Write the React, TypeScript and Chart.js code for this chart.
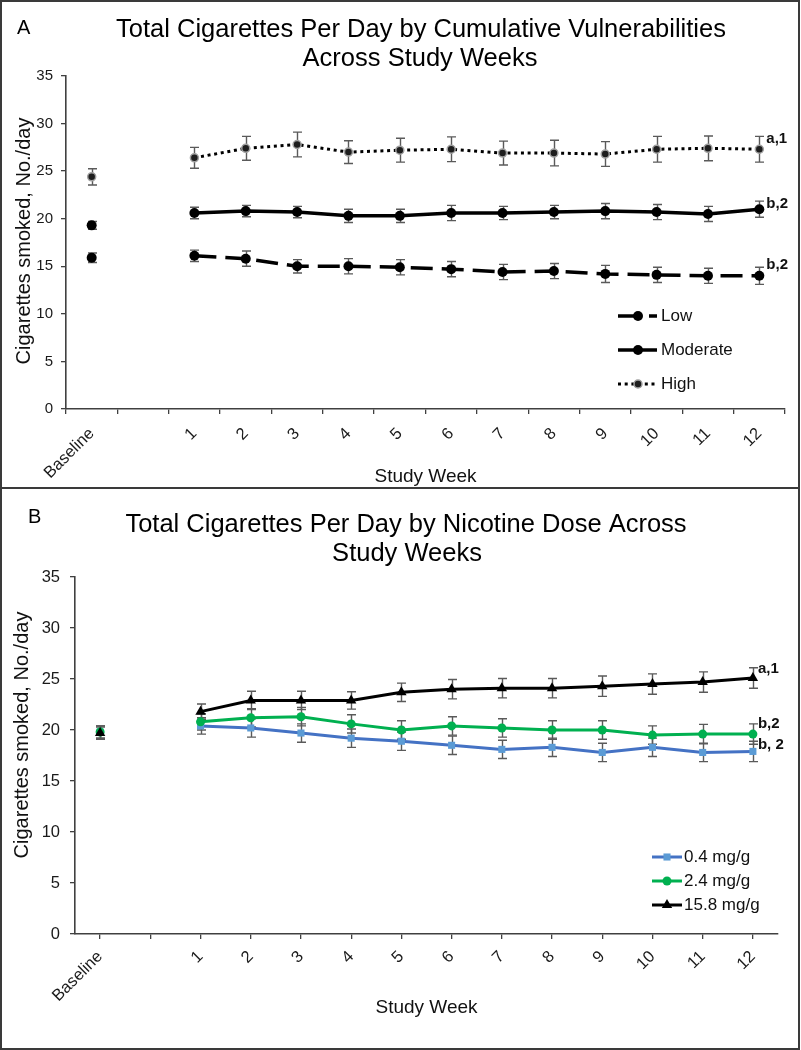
import React, { useEffect, useRef } from 'react';
import { Chart, registerables } from 'chart.js';

Chart.register(...registerables);

const FONT = '"Liberation Sans", Arial, Helvetica, sans-serif';

// ---------- shared categories / ticks ----------
const weekCategories = ['Baseline', '', '1', '2', '3', '4', '5', '6', '7', '8', '9', '10', '11', '12'];
const yMin = 0;
const yMax = 35;
const yStep = 5;

// ---------- Panel A: cumulative vulnerabilities ----------
const panelATitle = ['Total Cigarettes Per Day by Cumulative Vulnerabilities', 'Across Study Weeks'];
const seriesANames = ['Low', 'Moderate', 'High'];
const lowMean = [15.9, null, 16.1, 15.8, 15.0, 15.0, 14.9, 14.7, 14.4, 14.5, 14.2, 14.1, 14.0, 14.0];
const lowErr = [0.5, null, 0.6, 0.8, 0.7, 0.8, 0.8, 0.8, 0.8, 0.8, 0.9, 0.8, 0.8, 0.9];
const moderateMean = [19.3, null, 20.6, 20.8, 20.7, 20.3, 20.3, 20.6, 20.6, 20.7, 20.8, 20.7, 20.5, 21.0];
const moderateErr = [0.4, null, 0.6, 0.6, 0.6, 0.7, 0.7, 0.8, 0.7, 0.7, 0.8, 0.8, 0.8, 0.85];
const highMean = [24.4, null, 26.4, 27.4, 27.8, 27.0, 27.2, 27.3, 26.9, 26.9, 26.8, 27.3, 27.4, 27.3];
const highErr = [0.85, null, 1.1, 1.25, 1.3, 1.2, 1.25, 1.3, 1.25, 1.35, 1.3, 1.35, 1.3, 1.35];
const annotA = ['b,2', 'b,2', 'a,1'];

// ---------- Panel B: nicotine dose ----------
const panelBTitle = ['Total Cigarettes Per Day by Nicotine Dose Across', 'Study Weeks'];
const seriesBNames = ['0.4 mg/g', '2.4 mg/g', '15.8 mg/g'];
const dose04Mean = [19.8, null, 20.4, 20.2, 19.7, 19.2, 18.9, 18.5, 18.1, 18.3, 17.8, 18.3, 17.8, 17.9];
const dose04Err = [0.6, null, 0.8, 0.9, 0.9, 0.9, 0.9, 0.9, 0.9, 0.9, 0.9, 0.9, 0.9, 1.0];
const dose24Mean = [19.8, null, 20.8, 21.2, 21.3, 20.6, 20.0, 20.4, 20.2, 20.0, 20.0, 19.5, 19.6, 19.6];
const dose24Err = [0.6, null, 0.8, 0.9, 0.9, 0.9, 0.9, 0.9, 0.9, 0.9, 0.9, 0.9, 0.95, 1.0];
const dose158Mean = [19.7, null, 21.8, 22.9, 22.9, 22.9, 23.7, 24.0, 24.1, 24.1, 24.3, 24.5, 24.7, 25.1];
const dose158Err = [0.6, null, 0.75, 0.9, 0.9, 0.85, 0.9, 0.95, 0.95, 0.95, 1.0, 1.0, 1.0, 1.0];
const annotB = ['b, 2', 'b,2', 'a,1'];

// ---------- plugins ----------
const errorBarPlugin = {
  id: 'errorBars',
  beforeDatasetsDraw(chart: any) {
    const ctx = chart.ctx;
    const yScale = chart.scales.y;
    ctx.save();
    ctx.strokeStyle = '#5a5a5a';
    ctx.lineWidth = 1.4;
    chart.data.datasets.forEach((ds: any, i: number) => {
      const meta = chart.getDatasetMeta(i);
      meta.data.forEach((pt: any, j: number) => {
        const v = ds.data[j];
        const e = ds.errors ? ds.errors[j] : null;
        if (v == null || e == null) return;
        const x = Math.round(pt.x) + 0.5;
        const y1 = yScale.getPixelForValue(v + e);
        const y2 = yScale.getPixelForValue(v - e);
        ctx.beginPath();
        ctx.moveTo(x, y1);
        ctx.lineTo(x, y2);
        ctx.moveTo(x - 4.5, y1);
        ctx.lineTo(x + 4.5, y1);
        ctx.moveTo(x - 4.5, y2);
        ctx.lineTo(x + 4.5, y2);
        ctx.stroke();
      });
    });
    ctx.restore();
  },
};

function drawMarker(ctx: CanvasRenderingContext2D, style: string, x: number, y: number, r: number, fill: string, stroke: string, sw: number) {
  ctx.save();
  ctx.beginPath();
  if (style === 'rect') {
    const s = Math.SQRT1_2 * r;
    ctx.rect(x - s, y - s, 2 * s, 2 * s);
  } else if (style === 'triangle') {
    let rad = 0;
    ctx.moveTo(x + Math.sin(rad) * r, y - Math.cos(rad) * r);
    rad += (2 * Math.PI) / 3;
    ctx.lineTo(x + Math.sin(rad) * r, y - Math.cos(rad) * r);
    rad += (2 * Math.PI) / 3;
    ctx.lineTo(x + Math.sin(rad) * r, y - Math.cos(rad) * r);
    ctx.closePath();
  } else {
    ctx.arc(x, y, r, 0, Math.PI * 2);
  }
  ctx.fillStyle = fill;
  ctx.fill();
  if (sw > 0) {
    ctx.strokeStyle = stroke;
    ctx.lineWidth = sw;
    ctx.stroke();
  }
  ctx.restore();
}

const overlayPlugin = {
  id: 'overlay',
  afterDraw(chart: any, _args: any, opts: any) {
    const ctx: CanvasRenderingContext2D = chart.ctx;
    ctx.save();
    // chart title
    ctx.fillStyle = '#000';
    ctx.textAlign = 'center';
    ctx.textBaseline = 'alphabetic';
    ctx.font = `${opts.titleSize}px ${FONT}`;
    opts.titleLines.forEach((t: string, i: number) => {
      ctx.fillText(t, opts.titlePos[i][0], opts.titlePos[i][1]);
    });
    // panel letter
    ctx.textAlign = 'left';
    ctx.font = `20px ${FONT}`;
    ctx.fillText(opts.letter, opts.letterPos[0], opts.letterPos[1]);
    // y axis title
    ctx.save();
    ctx.translate(opts.yTitlePos[0], opts.yTitlePos[1]);
    ctx.rotate(-Math.PI / 2);
    ctx.textAlign = 'center';
    ctx.textBaseline = 'middle';
    ctx.font = `20px ${FONT}`;
    ctx.fillStyle = '#111';
    ctx.fillText(opts.yTitle, 0, 0);
    ctx.restore();
    // end-of-line annotations
    ctx.font = `bold 15px ${FONT}`;
    ctx.textAlign = 'left';
    ctx.textBaseline = 'middle';
    ctx.fillStyle = '#111';
    opts.annotations.forEach((text: string, i: number) => {
      const meta = chart.getDatasetMeta(i);
      const pt = meta.data[meta.data.length - 1];
      ctx.fillText(text, pt.x + opts.annotDx, pt.y + opts.annotDy[i]);
    });
    // legend
    const lg = opts.legend;
    lg.order.forEach((dsIndex: number, k: number) => {
      const ds = chart.data.datasets[dsIndex];
      const y = lg.ys[k];
      ctx.save();
      ctx.strokeStyle = ds.borderColor;
      ctx.lineWidth = ds.borderWidth;
      ctx.setLineDash(ds.borderDash || []);
      ctx.beginPath();
      ctx.moveTo(lg.x0, y);
      ctx.lineTo(lg.x1, y);
      ctx.stroke();
      ctx.restore();
      drawMarker(ctx, ds.pointStyle || 'circle', lg.xm, y, ds.pointRadius, ds.pointBackgroundColor, ds.pointBorderColor, ds.pointBorderWidth || 0);
      ctx.fillStyle = '#111';
      ctx.font = `17px ${FONT}`;
      ctx.textAlign = 'left';
      ctx.textBaseline = 'middle';
      ctx.fillText(ds.label, lg.xt, y);
    });
    ctx.restore();
  },
};

// ---------- chart configs ----------
function makeScales(p: {
  yWidth: number; xHeight: number; yTickFont: number; xTickFont: number; yPad: number; xPad: number; gridOffset: boolean; xTitleBottom: number;
}) {
  const axisColor = '#404040';
  return {
    x: {
      type: 'category',
      offset: true,
      grid: { offset: p.gridOffset, drawOnChartArea: false, drawTicks: true, tickLength: 5, color: axisColor, lineWidth: 1.3 },
      border: { display: true, color: axisColor, width: 1.6 },
      ticks: { autoSkip: false, minRotation: 45, maxRotation: 45, padding: p.xPad, color: '#1a1a1a', font: { family: FONT, size: p.xTickFont } },
      title: { display: true, text: 'Study Week', color: '#111', font: { family: FONT, size: 19 }, padding: { top: 0, bottom: p.xTitleBottom } },
      afterFit: (s: any) => { s.height = p.xHeight; },
    },
    y: {
      min: yMin,
      max: yMax,
      grid: { drawOnChartArea: false, drawTicks: true, tickLength: 5, color: axisColor, lineWidth: 1.3 },
      border: { display: true, color: axisColor, width: 1.6 },
      ticks: { stepSize: yStep, padding: p.yPad, color: '#1a1a1a', font: { family: FONT, size: p.yTickFont } },
      afterFit: (s: any) => { s.width = p.yWidth; },
    },
  };
}

function configA(): any {
  return {
    type: 'line',
    data: {
      labels: weekCategories,
      datasets: [
        {
          label: seriesANames[0], data: lowMean, errors: lowErr,
          borderColor: '#000', borderWidth: 3.5, borderDash: [22, 9],
          pointStyle: 'circle', pointRadius: 5, pointBackgroundColor: '#000', pointBorderColor: '#000', pointBorderWidth: 0,
          tension: 0, spanGaps: false,
        },
        {
          label: seriesANames[1], data: moderateMean, errors: moderateErr,
          borderColor: '#000', borderWidth: 3.5,
          pointStyle: 'circle', pointRadius: 5, pointBackgroundColor: '#000', pointBorderColor: '#000', pointBorderWidth: 0,
          tension: 0, spanGaps: false,
        },
        {
          label: seriesANames[2], data: highMean, errors: highErr,
          borderColor: '#000', borderWidth: 3, borderDash: [3, 3.7],
          pointStyle: 'circle', pointRadius: 4, pointBackgroundColor: '#1e1e1e', pointBorderColor: '#a0a0a0', pointBorderWidth: 1.5,
          tension: 0, spanGaps: false,
        },
      ],
    },
    options: {
      animation: false,
      responsive: false,
      maintainAspectRatio: false,
      layout: { padding: { top: 76, left: 0, right: 16, bottom: 0 } },
      plugins: {
        legend: { display: false },
        tooltip: { enabled: false },
        title: { display: false },
        overlay: {
          titleLines: panelATitle,
          titlePos: [[421, 37], [420, 66]],
          titleSize: 25.5,
          letter: 'A',
          letterPos: [17, 34],
          yTitle: 'Cigarettes smoked, No./day',
          yTitlePos: [24, 241],
          annotations: annotA,
          annotDx: 7,
          annotDy: [-11, -5, -10],
          legend: { order: [0, 1, 2], ys: [316, 350, 384], x0: 618, x1: 657, xm: 638, xt: 661 },
        },
      },
      scales: makeScales({ yWidth: 66, xHeight: 80, yTickFont: 15, xTickFont: 16.5, yPad: 8, xPad: 10, gridOffset: true, xTitleBottom: 1 }),
    },
    plugins: [errorBarPlugin, overlayPlugin],
  };
}

function configB(): any {
  return {
    type: 'line',
    data: {
      labels: weekCategories,
      datasets: [
        {
          label: seriesBNames[0], data: dose04Mean, errors: dose04Err, order: 3,
          borderColor: '#4472C4', borderWidth: 3,
          pointStyle: 'rect', pointRadius: 5, pointBackgroundColor: '#5B9BD5', pointBorderColor: '#5B9BD5', pointBorderWidth: 0,
          tension: 0, spanGaps: false,
        },
        {
          label: seriesBNames[1], data: dose24Mean, errors: dose24Err, order: 2,
          borderColor: '#00B050', borderWidth: 3,
          pointStyle: 'circle', pointRadius: 4.5, pointBackgroundColor: '#00B050', pointBorderColor: '#00B050', pointBorderWidth: 0,
          tension: 0, spanGaps: false,
        },
        {
          label: seriesBNames[2], data: dose158Mean, errors: dose158Err, order: 1,
          borderColor: '#000', borderWidth: 3,
          pointStyle: 'triangle', pointRadius: 6, pointBackgroundColor: '#000', pointBorderColor: '#000', pointBorderWidth: 0,
          tension: 0, spanGaps: false,
        },
      ],
    },
    options: {
      animation: false,
      responsive: false,
      maintainAspectRatio: false,
      layout: { padding: { top: 88, left: 0, right: 23, bottom: 0 } },
      plugins: {
        legend: { display: false },
        tooltip: { enabled: false },
        title: { display: false },
        overlay: {
          titleLines: panelBTitle,
          titlePos: [[406, 43], [407, 72]],
          titleSize: 25.5,
          letter: 'B',
          letterPos: [28, 34],
          yTitle: 'Cigarettes smoked, No./day',
          yTitlePos: [22, 246],
          annotations: annotB,
          annotDx: 5,
          annotDy: [-7, -10, -9],
          legend: { order: [0, 1, 2], ys: [368, 392, 416], x0: 652, x1: 682, xm: 667, xt: 684 },
        },
      },
      scales: makeScales({ yWidth: 75, xHeight: 116, yTickFont: 16.5, xTickFont: 16.5, yPad: 10, xPad: 8, gridOffset: false, xTitleBottom: 31 }),
    },
    plugins: [errorBarPlugin, overlayPlugin],
  };
}

function Panel({ makeConfig, top, height }: { makeConfig: () => any; top: number; height: number }) {
  const ref = useRef<HTMLCanvasElement>(null);
  useEffect(() => {
    const chart = new Chart(ref.current as HTMLCanvasElement, makeConfig());
    return () => chart.destroy();
  }, []);
  return (
    <canvas
      ref={ref}
      width={801}
      height={height}
      style={{ position: 'absolute', left: 0, top, width: 801, height, display: 'block' }}
    />
  );
}

export default function App() {
  return (
    <div style={{ position: 'absolute', left: 0, top: 0, width: 801, height: 1050, background: '#fff', overflow: 'hidden' }}>
      <Panel makeConfig={configA} top={0} height={489} />
      <Panel makeConfig={configB} top={489} height={561} />
      <div style={{ position: 'absolute', left: 0, top: 0, width: 800, height: 489, border: '2px solid #3a3a3a', boxSizing: 'border-box', pointerEvents: 'none' }} />
      <div style={{ position: 'absolute', left: 0, top: 487, width: 800, height: 563, border: '2px solid #3a3a3a', boxSizing: 'border-box', pointerEvents: 'none' }} />
    </div>
  );
}
